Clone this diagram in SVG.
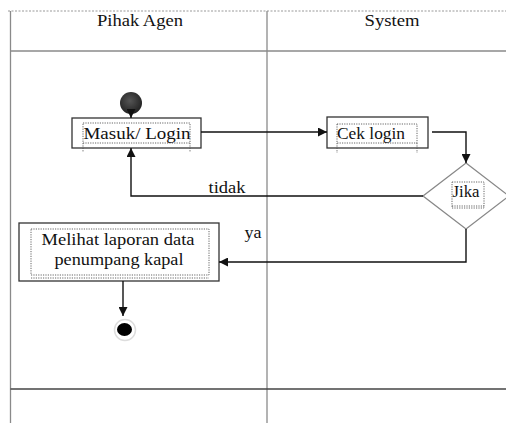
<svg xmlns="http://www.w3.org/2000/svg" width="506" height="423" viewBox="0 0 506 423">
<style>
.hdr{font-family:'Liberation Serif',serif;font-size:17px;fill:#111;text-anchor:middle}
.lbl{font-family:'Liberation Serif',serif;font-size:16px;fill:#111;text-anchor:middle}
.lane{stroke:#8a8a8a;stroke-width:1.3;fill:none}
.box{fill:#fff;stroke:#333;stroke-width:1.3}
.frame{fill:none;stroke:#555;stroke-width:0.9;stroke-dasharray:1.2 1.2}
.con{fill:none;stroke:#111;stroke-width:1.4}
</style>
<defs>
<marker id="arr" viewBox="0 0 10 10" refX="10" refY="5" markerWidth="9" markerHeight="9" markerUnits="userSpaceOnUse" orient="auto">
<path d="M0,0 L10,5 L0,10 z" fill="#111"/>
</marker>
<radialGradient id="startG" cx="0.45" cy="0.4" r="0.6">
<stop offset="0" stop-color="#555"/>
<stop offset="1" stop-color="#222"/>
</radialGradient>
</defs>
<rect width="506" height="423" fill="#fff"/>
<g id="lanes">
<line x1="8" y1="11" x2="506" y2="11" stroke="#999" stroke-width="1" stroke-dasharray="2 1.5"/>
<line class="lane" x1="10.5" y1="11" x2="10.5" y2="423"/>
<line class="lane" x1="267" y1="11" x2="267" y2="423"/>
<line class="lane" x1="10.5" y1="51" x2="506" y2="51"/>
<line x1="10.5" y1="389" x2="506" y2="389" stroke="#444" stroke-width="1.5"/>
<text class="hdr" x="140" y="26" font-family="Liberation Serif" textLength="86" lengthAdjust="spacingAndGlyphs">Pihak Agen</text>
<text class="hdr" x="392" y="26" font-family="Liberation Serif" textLength="55" lengthAdjust="spacingAndGlyphs">System</text>
</g>
<g id="start">
<circle cx="131" cy="103" r="11" fill="url(#startG)"/>
</g>
<g id="masuk">
<rect class="box" x="72" y="118" width="129" height="30"/>
<rect class="frame" x="83" y="123" width="107" height="20"/>
<line class="frame" x1="83" y1="143" x2="83" y2="152"/>
<line class="frame" x1="190" y1="143" x2="190" y2="152"/>
<text class="lbl" x="137" y="139" textLength="107" lengthAdjust="spacingAndGlyphs">Masuk/ Login</text>
</g>
<g id="cek">
<rect class="box" x="327" y="117" width="101" height="31"/>
<rect class="frame" x="337" y="124" width="80" height="19"/>
<line class="frame" x1="337" y1="143" x2="337" y2="153"/>
<line class="frame" x1="417" y1="143" x2="417" y2="153"/>
<text class="lbl" x="371" y="139" textLength="68" lengthAdjust="spacingAndGlyphs">Cek login</text>
</g>
<g id="jika">
<polygon points="466,163 509,196 466,229 423,196" fill="#fff" stroke="#888" stroke-width="1.3"/>
<rect class="frame" x="452" y="182" width="32" height="26"/>
<line class="frame" x1="452" y1="206" x2="484" y2="206"/>
<text class="lbl" x="466" y="197" textLength="27" lengthAdjust="spacingAndGlyphs">Jika</text>
</g>
<g id="melihat">
<rect class="box" x="19" y="223" width="200" height="58"/>
<rect class="frame" x="31" y="229" width="178" height="46"/>
<line class="frame" x1="31" y1="278" x2="209" y2="278"/>
<text class="lbl" x="118" y="245" textLength="153" lengthAdjust="spacingAndGlyphs">Melihat laporan data</text>
<text class="lbl" x="119" y="265" textLength="129" lengthAdjust="spacingAndGlyphs">penumpang kapal</text>
</g>
<g id="end">
<circle cx="125" cy="330" r="10.5" fill="#fff" stroke="#ddd" stroke-width="1.5"/>
<ellipse cx="124.5" cy="329.5" rx="7.5" ry="6.5" fill="#000"/>
</g>
<g id="connectors">
<line class="con" x1="131" y1="114" x2="131" y2="118" marker-end="url(#arr)"/>
<line class="con" x1="201" y1="132" x2="327" y2="132" marker-end="url(#arr)"/>
<polyline class="con" points="432,132 466,132 466,163" marker-end="url(#arr)"/>
<polyline class="con" points="423,196 131,196 131,148" marker-end="url(#arr)"/>
<polyline class="con" points="466,229 466,262 219,262" marker-end="url(#arr)"/>
<line class="con" x1="123" y1="281" x2="123" y2="316" marker-end="url(#arr)"/>
<text class="lbl" x="227" y="193" textLength="37" lengthAdjust="spacingAndGlyphs">tidak</text>
<text class="lbl" x="253" y="238" textLength="17" lengthAdjust="spacingAndGlyphs">ya</text>
</g>
</svg>
